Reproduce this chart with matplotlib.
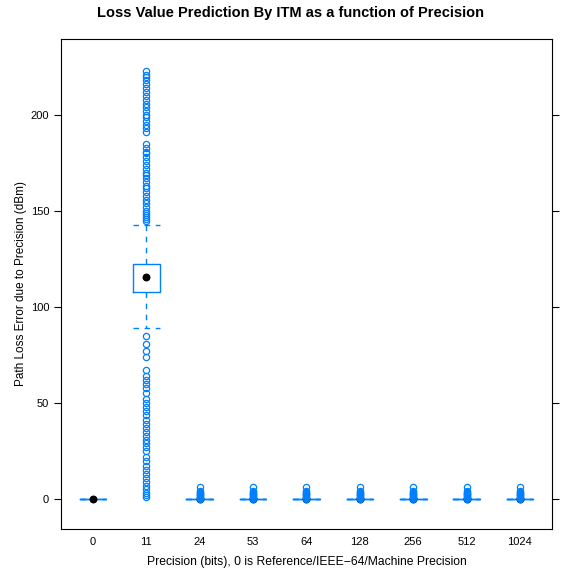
import matplotlib.pyplot as plt

# precision groups (bits), 0 = reference precision
precision = ["0", "11", "24", "53", "64", "128", "256", "512", "1024"]

# box statistics (dBm)
medians = [0, 115.6, 0, 0, 0, 0, 0, 0, 0]
q1 = [0, 107.8, 0, 0, 0, 0, 0, 0, 0]
q3 = [0, 122.4, 0, 0, 0, 0, 0, 0, 0]
whis_lo = [0, 89.0, 0, 0, 0, 0, 0, 0, 0]
whis_hi = [0, 142.7, 0, 0, 0, 0, 0, 0, 0]

# outliers for 11 bits
out_11 = [145, 146, 147, 148, 149, 150, 152, 154, 156, 158, 160, 162, 163, 165,
          167, 169, 170, 172, 174, 176, 178, 180, 181, 183, 185, 191, 193, 195,
          197, 199, 200, 202, 204, 206, 208, 210, 212, 214, 216, 218, 220, 221, 223,
          85, 81, 77, 74, 67, 64, 62, 60, 58, 55, 52, 50, 48, 46, 44, 41, 39, 37,
          35, 33, 31, 29, 27, 25, 22, 20, 17, 15, 13, 11, 9, 7, 5, 3, 2, 1]
# outliers for the higher precisions (all similar)
out_small = [0.0, 0.4, 0.8, 1.2, 1.6, 2.0, 2.4, 2.8, 3.2, 3.6, 4.0, 6.2]
outliers = [[], out_11] + [out_small] * 7

blue = "#0080ff"
plt.rcParams["font.family"] = ["Liberation Sans", "DejaVu Sans"]

fig = plt.figure(figsize=(5.81, 5.81), dpi=100)
ax = fig.add_axes([0.105, 0.0895, 0.845, 0.8434])

stats = []
for i in range(len(precision)):
    stats.append(dict(med=medians[i], q1=q1[i], q3=q3[i], whislo=whis_lo[i],
                      whishi=whis_hi[i], fliers=outliers[i]))

pos = list(range(1, len(precision) + 1))
ax.bxp(stats, positions=pos, widths=0.5, capwidths=0.5, showfliers=True,
       boxprops=dict(color=blue, linewidth=1),
       whiskerprops=dict(color=blue, linewidth=1, linestyle=(0, (4, 4))),
       capprops=dict(color=blue, linewidth=1, linestyle=(0, (4, 4))),
       medianprops=dict(linewidth=0),
       flierprops=dict(marker="o", markerfacecolor="none", markeredgecolor=blue,
                       markersize=4.5, markeredgewidth=0.9, zorder=4))
ax.scatter(pos, medians, color="black", s=22, zorder=3)

ax.set_xlim(0.4, 9.6)
ax.set_ylim(-15.6, 239.6)
ax.set_xticks(pos)
ax.set_xticklabels(precision)
ax.set_yticks([0, 50, 100, 150, 200])
ax.tick_params(axis="y", direction="out", length=5, labelsize=8, right=True)
ax.tick_params(axis="x", length=0, labelsize=8, pad=6)
for s in ax.spines.values():
    s.set_linewidth(0.8)

ax.set_xlabel("Precision (bits), 0 is Reference/IEEE\u221264/Machine Precision",
              fontsize=8.7, labelpad=6)
ax.set_ylabel("Path Loss Error due to Precision (dBm)", fontsize=8.5, labelpad=3)
fig.suptitle("Loss Value Prediction By ITM as a function of Precision",
             fontsize=10.5, fontweight="bold", y=0.99)

fig.savefig("out.png", dpi=100)
